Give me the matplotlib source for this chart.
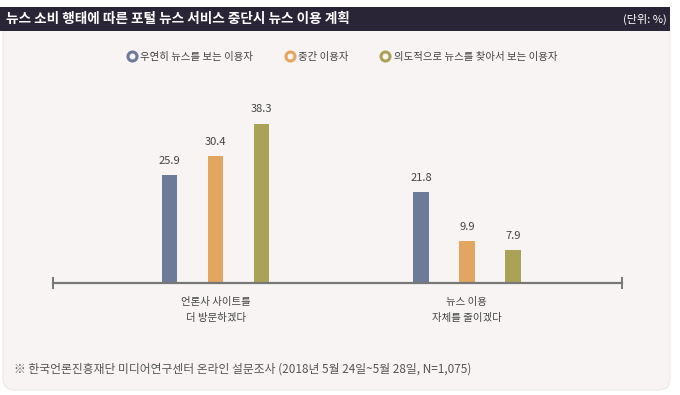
import matplotlib.pyplot as plt
from matplotlib.patches import FancyBboxPatch, Rectangle
from matplotlib.lines import Line2D

plt.rcParams['font.family'] = ['Noto Sans CJK KR', 'DejaVu Sans']

# data
categories = ['언론사 사이트를\n더 방문하겠다', '뉴스 이용\n자체를 줄이겠다']
series_names = ['우연히 뉴스를 보는 이용자', '중간 이용자', '의도적으로 뉴스를 찾아서 보는 이용자']
casual = [25.9, 21.8]
middle = [30.4, 9.9]
intentional = [38.3, 7.9]
series = [casual, middle, intentional]
colors = ['#6e7b98', '#e2a661', '#aaa257']

title = '뉴스 소비 행태에 따른 포털 뉴스 서비스 중단시 뉴스 이용 계획'
unit = '(단위: %)'
source = '※ 한국언론진흥재단 미디어연구센터 온라인 설문조사 (2018년 5월 24일~5월 28일, N=1,075)'

W, H = 680, 395
fig = plt.figure(figsize=(W / 100, H / 100), dpi=100)
fig.patch.set_facecolor('white')

# background layer in pixel coords
bg = fig.add_axes([0, 0, 1, 1])
bg.set_xlim(0, W)
bg.set_ylim(H, 0)
bg.axis('off')
bg.add_patch(FancyBboxPatch((3, 20), 667, 370, boxstyle='round,pad=0,rounding_size=12',
                            fc='#f8f4f4', ec='#ece8e8', lw=0.8))
bg.add_patch(Rectangle((0, 7), 670, 24, fc='#2a2536', ec='none'))
bg.text(6, 19, title, color='white', fontsize=9.8, fontweight='bold', va='center', ha='left')
bg.text(667, 19, unit, color='white', fontsize=8, va='center', ha='right')
bg.text(14, 369, source, color='#555555', fontsize=8.5, va='center', ha='left')

# legend
handles = [Line2D([], [], ls='none', marker='o', ms=6.5, mfc='#f8f4f4', mec=c, mew=2.2)
           for c in colors]
leg = fig.legend(handles, series_names, loc='center', bbox_to_anchor=(342 / W, 1 - 57 / H),
                 ncol=3, frameon=False, fontsize=7.5, handletextpad=0.3, columnspacing=3.0,
                 handlelength=1.0)
for t in leg.get_texts():
    t.set_color('#444444')

# bars
ax = fig.add_axes([53 / W, 1 - 282.5 / H, 569 / W, 190 / H])
ax.patch.set_alpha(0)
offset = 0.183
width = 0.062
for i, vals in enumerate(series):
    xs = [g + (i - 1) * offset for g in range(len(categories))]
    bars = ax.bar(xs, vals, width=width, color=colors[i], zorder=2)
    for b, v in zip(bars, vals):
        ax.text(b.get_x() + b.get_width() / 2, v + 2.2, f'{v}', ha='center', va='bottom',
                fontsize=8, color='#444444')

ax.set_xlim(-0.647, 1.617)
ax.set_ylim(0, 45.8)
for s in ['top', 'right', 'left']:
    ax.spines[s].set_visible(False)
ax.spines['bottom'].set_color('#777777')
ax.spines['bottom'].set_linewidth(1.6)
ax.spines['bottom'].set_zorder(3)
ax.set_yticks([])
ax.set_xticks([-0.647, 1.617])
ax.set_xticklabels([])
ax.tick_params(axis='x', direction='inout', length=8, width=1.4, color='#777777')
for g, name in enumerate(categories):
    ax.text(g, -3.6, name, ha='center', va='top', fontsize=7.5, color='#444444',
            linespacing=1.65)

fig.savefig('out.png', dpi=100, facecolor='white')
